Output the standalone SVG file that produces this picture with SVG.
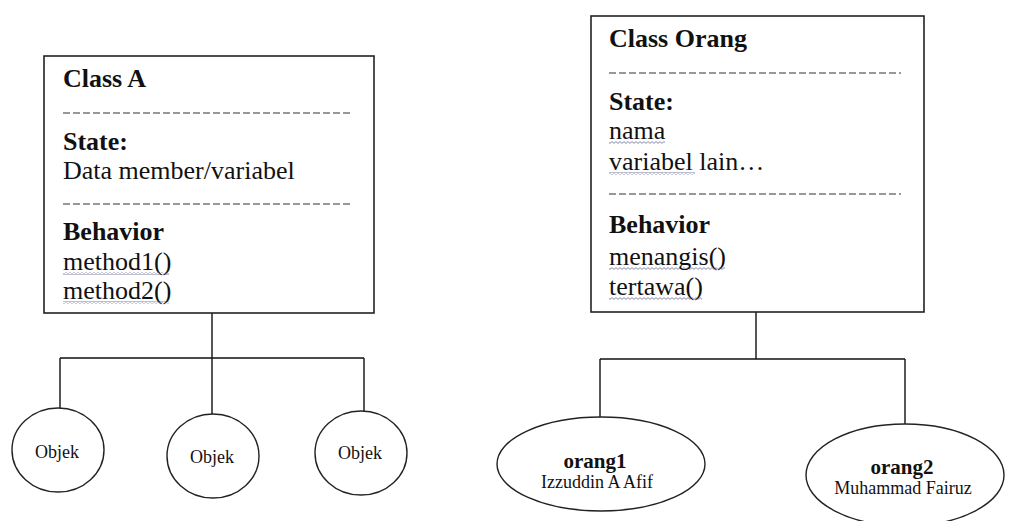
<svg xmlns="http://www.w3.org/2000/svg" width="1012" height="521" viewBox="0 0 1012 521">
<defs>
<pattern id="wave" width="4" height="3" patternUnits="userSpaceOnUse">
<path d="M0,0.6 L2,2.4 L4,0.6" fill="none" stroke="#7c7ca4" stroke-width="0.9"/>
</pattern>
</defs>
<style>
.box{fill:#fff;stroke:#222;stroke-width:1.6}
.obj{fill:#fff;stroke:#222;stroke-width:1.4}
.sep{stroke:#333;stroke-width:1.2;stroke-dasharray:7 3}
.t{font-family:"Liberation Serif","Times New Roman",serif;font-size:26px;fill:#111}
.b{font-weight:bold}
.s{font-family:"Liberation Serif","Times New Roman",serif;font-size:18px;fill:#111}
.n{font-family:"Liberation Serif","Times New Roman",serif;font-size:21px;font-weight:bold;fill:#111}
.conn{fill:none;stroke:#111;stroke-width:1.4}
.sq{fill:url(#wave)}
</style>
<rect width="1012" height="521" fill="#fff"/>
<g id="connectors">
<path class="conn" d="M212,313 V358 M60,358 H364 M60,358 V408 M212,358 V414 M364,358 V411"/>
<path class="conn" d="M756,312 V359 M600,359 H905 M600,359 V417 M905,359 V424"/>
</g>
<g id="classA">
<rect class="box" x="44" y="56" width="330" height="257"/>
<text class="t b" x="63" y="87">Class A</text>
<line class="sep" x1="63" y1="113" x2="353" y2="113"/>
<text class="t b" x="63" y="150">State:</text>
<text class="t" x="63" y="179">Data member/variabel</text>
<line class="sep" x1="63" y1="204" x2="353" y2="204"/>
<text class="t b" x="63" y="240">Behavior</text>
<rect class="sq" x="63" y="272" width="106" height="3"/>
<text class="t" x="63" y="270">method1()</text>
<rect class="sq" x="63" y="301" width="106" height="3"/>
<text class="t" x="63" y="299">method2()</text>
</g>
<g id="objek1">
<ellipse class="obj" cx="58" cy="450" rx="46" ry="42"/>
<text class="s" x="57" y="458" text-anchor="middle">Objek</text>
</g>
<g id="objek2">
<ellipse class="obj" cx="213" cy="456" rx="46" ry="42"/>
<text class="s" x="212" y="463" text-anchor="middle">Objek</text>
</g>
<g id="objek3">
<ellipse class="obj" cx="361" cy="453" rx="46" ry="42"/>
<text class="s" x="360" y="459" text-anchor="middle">Objek</text>
</g>
<g id="classOrang">
<rect class="box" x="591" y="16" width="333" height="296"/>
<text class="t b" x="609" y="47">Class Orang</text>
<line class="sep" x1="609" y1="73" x2="901" y2="73"/>
<text class="t b" x="609" y="110">State:</text>
<rect class="sq" x="609" y="141" width="56" height="3"/>
<text class="t" x="609" y="139">nama</text>
<rect class="sq" x="609" y="172" width="86" height="3"/>
<text class="t" x="609" y="170">variabel lain…</text>
<line class="sep" x1="609" y1="194" x2="901" y2="194"/>
<text class="t b" x="609" y="233">Behavior</text>
<rect class="sq" x="609" y="267" width="116" height="3"/>
<text class="t" x="609" y="265">menangis()</text>
<rect class="sq" x="609" y="297" width="93" height="3"/>
<text class="t" x="609" y="295">tertawa()</text>
</g>
<g id="orang1">
<ellipse class="obj" cx="601" cy="464" rx="104" ry="47"/>
<text class="n" x="595" y="468" text-anchor="middle">orang1</text>
<text class="s" x="597" y="488" text-anchor="middle">Izzuddin A Afif</text>
</g>
<g id="orang2">
<ellipse class="obj" cx="905" cy="475" rx="99" ry="51"/>
<text class="n" x="902" y="474" text-anchor="middle">orang2</text>
<text class="s" x="903" y="494" text-anchor="middle">Muhammad Fairuz</text>
</g>
</svg>
